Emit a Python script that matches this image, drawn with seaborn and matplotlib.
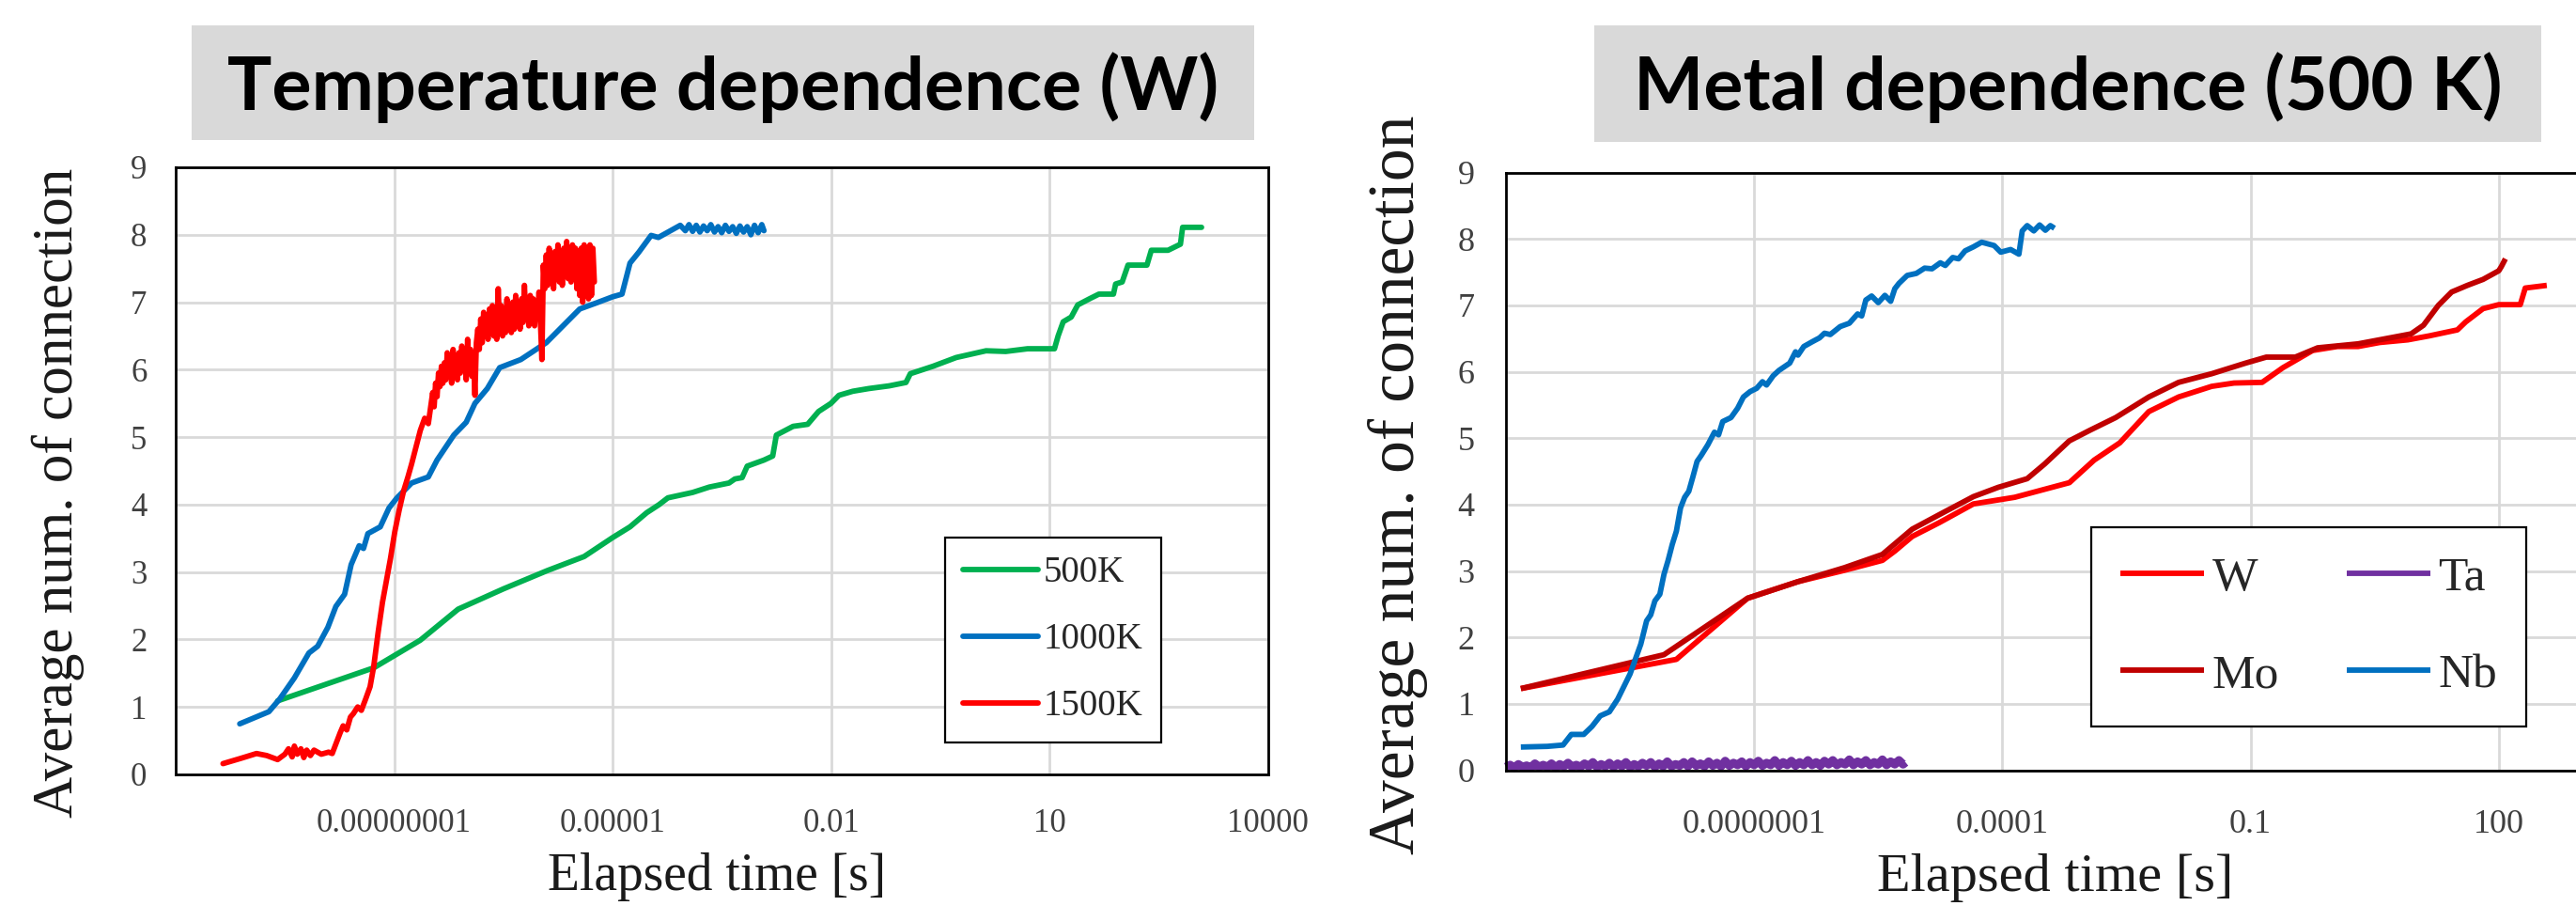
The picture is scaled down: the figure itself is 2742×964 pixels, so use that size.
import numpy as np
import pandas as pd
import matplotlib
matplotlib.use("Agg")
import matplotlib.pyplot as plt
from matplotlib.patches import Rectangle
from matplotlib.ticker import FixedLocator, FixedFormatter, NullLocator
import seaborn as sns

# ---------------- DATA (log10 of elapsed time [s], average num. of connection) ----------------
# Left chart: temperature dependence (W)
left_series = ["500K", "1000K", "1500K"]
left_colors = ["#00B050", "#0070C0", "#FF0000"]

logt_500K = [-9.60, -8.28, -7.64, -7.12, -6.50, -5.90, -5.39, -5.00, -4.76, -4.53, -4.36, -4.24,
             -3.90, -3.67, -3.40, -3.32, -3.22, -3.15, -2.92, -2.80, -2.75, -2.52, -2.32, -2.17,
             -2.00, -1.89, -1.70, -1.48, -1.20, -0.97, -0.91, -0.60, -0.28, 0.13, 0.40, 0.70,
             1.07, 1.12, 1.19, 1.30, 1.39, 1.55, 1.68, 1.88, 1.91, 2.00, 2.08, 2.34, 2.40, 2.63,
             2.80, 2.83, 3.09]
val_500K = [1.09, 1.58, 1.99, 2.45, 2.75, 3.02, 3.23, 3.51, 3.67, 3.88, 4.00, 4.10,
            4.18, 4.26, 4.32, 4.38, 4.40, 4.57, 4.66, 4.72, 5.03, 5.16, 5.19, 5.38,
            5.50, 5.62, 5.68, 5.72, 5.76, 5.81, 5.94, 6.05, 6.18, 6.28, 6.27, 6.31,
            6.31, 6.50, 6.71, 6.78, 6.96, 7.05, 7.12, 7.12, 7.27, 7.30, 7.55, 7.55, 7.77, 7.77,
            7.86, 8.11, 8.11]

logt_1000K = [-10.12, -9.72, -9.57, -9.37, -9.17, -9.05, -8.91, -8.80, -8.68, -8.59, -8.48, -8.42,
              -8.36, -8.19, -8.07, -7.96, -7.76, -7.53, -7.41, -7.18, -7.01, -6.89, -6.72, -6.55,
              -6.26, -5.91, -5.68, -5.45, -5.22, -5.00, -4.87, -4.76, -4.64, -4.47, -4.37, -4.07,
              -4.00, -3.95, -3.90, -3.85, -3.80, -3.75, -3.70, -3.65, -3.60, -3.55, -3.50, -3.45,
              -3.40, -3.35, -3.30, -3.25, -3.20, -3.15, -3.10, -3.05, -3.00, -2.95, -2.92]
val_1000K = [0.75, 0.93, 1.12, 1.43, 1.80, 1.90, 2.18, 2.49, 2.67, 3.11, 3.39, 3.35,
             3.57, 3.67, 3.95, 4.10, 4.32, 4.41, 4.66, 5.03, 5.22, 5.50, 5.72, 6.03,
             6.15, 6.40, 6.65, 6.90, 6.99, 7.08, 7.12, 7.58, 7.74, 7.99, 7.96, 8.14,
             8.06, 8.15, 8.05, 8.14, 8.04, 8.13, 8.06, 8.15, 8.04, 8.12, 8.03, 8.14,
             8.05, 8.12, 8.02, 8.13, 8.04, 8.12, 8.00, 8.14, 8.03, 8.15, 8.06]

logt_1500K = [-10.35, -10.10, -9.89, -9.75, -9.60, -9.50, -9.45, -9.40, -9.37, -9.33, -9.28, -9.24,
              -9.20, -9.15, -9.10, -9.00, -8.90, -8.85, -8.80, -8.74, -8.70, -8.65, -8.60, -8.56,
              -8.50, -8.45, -8.39, -8.33, -8.28, -8.22, -8.16, -8.10, -8.05, -7.99, -7.93, -7.87,
              -7.81, -7.76, -7.70, -7.64, -7.58, -7.53,
              -7.47, -7.45, -7.43, -7.41, -7.39, -7.37, -7.35, -7.33, -7.31, -7.29, -7.27, -7.25,
              -7.23, -7.21, -7.19, -7.17, -7.15, -7.13, -7.11, -7.09, -7.07, -7.05, -7.03, -7.01,
              -6.99, -6.97, -6.95, -6.93, -6.91, -6.89, -6.87, -6.85, -6.83, -6.81, -6.79, -6.77,
              -6.75, -6.73, -6.71, -6.69, -6.67, -6.65, -6.63, -6.61, -6.59, -6.57, -6.55, -6.53,
              -6.51, -6.49, -6.47, -6.45, -6.43, -6.41, -6.39, -6.37, -6.35, -6.33, -6.31, -6.29,
              -6.27, -6.25, -6.23, -6.21, -6.19, -6.17, -6.15, -6.13, -6.11, -6.09, -6.07, -6.05,
              -6.03, -6.01, -5.99, -5.97, -5.95, -5.93, -5.91, -5.89, -5.87, -5.85, -5.83, -5.81,
              -5.79, -5.77, -5.75, -5.73, -5.71, -5.69, -5.67, -5.65, -5.63, -5.61, -5.59, -5.57,
              -5.55, -5.53, -5.51, -5.49, -5.47, -5.45, -5.43, -5.41, -5.39, -5.37, -5.35, -5.33,
              -5.31, -5.29, -5.27, -5.25]
val_1500K = [0.16, 0.24, 0.31, 0.28, 0.22, 0.30, 0.38, 0.26, 0.42, 0.30, 0.38, 0.25,
             0.36, 0.28, 0.36, 0.30, 0.33, 0.31, 0.45, 0.62, 0.72, 0.66, 0.85, 0.90,
             1.00, 0.95, 1.12, 1.30, 1.60, 2.10, 2.55, 2.90, 3.20, 3.60, 3.92, 4.20,
             4.41, 4.60, 4.85, 5.10, 5.28, 5.20,
             5.66, 5.45, 5.80, 5.60, 5.95, 5.75, 6.05, 5.80, 6.10, 5.85, 6.25, 5.90,
             6.20, 5.80, 6.30, 5.90, 6.15, 5.85, 6.25, 5.95, 6.35, 6.00, 6.30, 5.85,
             6.45, 6.00, 6.30, 5.90, 6.20, 5.62, 6.40, 6.60, 6.30, 6.75, 6.40, 6.85,
             6.50, 6.80, 6.45, 6.90, 6.55, 6.95, 6.50, 6.85, 6.45, 7.20, 6.60, 6.95,
             6.50, 6.90, 6.55, 7.05, 6.60, 6.90, 6.55, 7.00, 6.60, 7.10, 6.65, 6.95,
             6.60, 7.05, 6.70, 7.25, 6.75, 7.00, 6.65, 7.10, 6.70, 7.05, 6.65, 7.00,
             6.80, 7.15, 6.70, 6.15, 7.55, 7.20, 7.70, 7.25, 7.80, 7.30, 7.65, 7.20,
             7.75, 7.35, 7.85, 7.30, 7.70, 7.25, 7.80, 7.40, 7.90, 7.35, 7.75, 7.30,
             7.85, 7.40, 7.80, 7.20, 7.70, 7.10, 7.80, 7.00, 7.85, 7.20, 7.80, 7.05,
             7.85, 7.10, 7.80, 7.30]

left_xticks = [1e-8, 1e-5, 1e-2, 1e1, 1e4]
left_xticklabels = ["0.00000001", "0.00001", "0.01", "10", "10000"]

# Right chart: metal dependence (500 K)
right_series = ["W", "Mo", "Ta", "Nb"]
right_colors = ["#FF0000", "#C00000", "#7030A0", "#0070C0"]

logt_W = [-9.82, -7.94, -7.08, -6.47, -5.91, -5.45, -5.30, -5.09, -4.76, -4.35, -3.85, -3.49,
          -3.19, -2.89, -2.58, -2.23, -1.87, -1.47, -1.20, -0.86, -0.61, -0.25, 0.05, 0.30,
          0.56, 0.90, 1.16, 1.50, 1.60, 1.81, 2.00, 2.26, 2.32, 2.58]
val_W = [1.23, 1.67, 2.59, 2.84, 3.01, 3.16, 3.30, 3.52, 3.73, 4.01, 4.11, 4.23,
         4.33, 4.67, 4.93, 5.40, 5.62, 5.78, 5.83, 5.84, 6.06, 6.32, 6.38, 6.38,
         6.44, 6.48, 6.54, 6.63, 6.75, 6.95, 7.01, 7.01, 7.26, 7.30]

logt_Mo = [-9.82, -8.09, -7.08, -6.47, -5.91, -5.45, -5.09, -4.76, -4.35, -4.05, -3.70, -3.49,
           -3.19, -2.94, -2.63, -2.23, -1.87, -1.47, -1.06, -0.81, -0.46, -0.19, 0.30, 0.94,
           1.09, 1.27, 1.43, 1.62, 1.81, 2.00, 2.03, 2.08]
val_Mo = [1.23, 1.74, 2.59, 2.84, 3.05, 3.25, 3.63, 3.85, 4.12, 4.26, 4.39, 4.61,
          4.96, 5.12, 5.31, 5.62, 5.84, 5.97, 6.13, 6.22, 6.22, 6.36, 6.42, 6.57,
          6.70, 7.00, 7.20, 7.30, 7.39, 7.52, 7.58, 7.70]

logt_Ta = [-10.00, -9.95, -9.90, -9.85, -9.80, -9.75, -9.70, -9.65, -9.60, -9.55, -9.50, -9.45,
           -9.40, -9.35, -9.30, -9.25, -9.20, -9.15, -9.10, -9.05, -9.00, -8.95, -8.90, -8.85,
           -8.80, -8.75, -8.70, -8.65, -8.60, -8.55, -8.50, -8.45, -8.40, -8.35, -8.30, -8.25,
           -8.20, -8.15, -8.10, -8.05, -8.00, -7.95, -7.90, -7.85, -7.80, -7.75, -7.70, -7.65,
           -7.60, -7.55, -7.50, -7.45, -7.40, -7.35, -7.30, -7.25, -7.20, -7.15, -7.10, -7.05,
           -7.00, -6.95, -6.90, -6.85, -6.80, -6.75, -6.70, -6.65, -6.60, -6.55, -6.50, -6.45,
           -6.40, -6.35, -6.30, -6.25, -6.20, -6.15, -6.10, -6.05, -6.00, -5.95, -5.90, -5.85,
           -5.80, -5.75, -5.70, -5.65, -5.60, -5.55, -5.50, -5.45, -5.40, -5.35, -5.30, -5.25,
           -5.20, -5.17]
val_Ta = [0.05, 0.08, 0.04, 0.09, 0.05, 0.07, 0.04, 0.10, 0.05, 0.08, 0.05, 0.10,
          0.04, 0.09, 0.06, 0.11, 0.05, 0.08, 0.05, 0.10, 0.06, 0.12, 0.05, 0.09,
          0.06, 0.11, 0.05, 0.10, 0.06, 0.12, 0.05, 0.09, 0.06, 0.11, 0.07, 0.12,
          0.05, 0.10, 0.06, 0.13, 0.06, 0.09, 0.07, 0.12, 0.06, 0.13, 0.07, 0.10,
          0.06, 0.13, 0.07, 0.11, 0.06, 0.14, 0.07, 0.11, 0.08, 0.13, 0.06, 0.12,
          0.08, 0.14, 0.07, 0.11, 0.08, 0.15, 0.07, 0.12, 0.08, 0.14, 0.07, 0.12,
          0.08, 0.15, 0.08, 0.12, 0.07, 0.14, 0.09, 0.15, 0.08, 0.12, 0.09, 0.16,
          0.08, 0.13, 0.09, 0.15, 0.08, 0.12, 0.09, 0.16, 0.08, 0.13, 0.09, 0.15,
          0.09, 0.12]

logt_Nb = [-9.82, -9.50, -9.31, -9.21, -9.06, -8.96, -8.86, -8.75, -8.65, -8.50, -8.37, -8.30,
           -8.25, -8.20, -8.14, -8.09, -8.04, -7.99, -7.94, -7.89, -7.84, -7.79, -7.74, -7.69,
           -7.64, -7.56, -7.48, -7.43, -7.38, -7.28, -7.20, -7.13, -7.05, -6.97, -6.90, -6.85,
           -6.77, -6.70, -6.57, -6.50, -6.47, -6.40, -6.30, -6.21, -6.15, -6.08, -5.96, -5.85,
           -5.75, -5.70, -5.65, -5.58, -5.50, -5.42, -5.35, -5.30, -5.25, -5.15, -5.04, -4.94,
           -4.85, -4.75, -4.69, -4.60, -4.53, -4.45, -4.35, -4.25, -4.10, -4.02, -3.90, -3.80,
           -3.76, -3.70, -3.62, -3.55, -3.48, -3.42, -3.37]
val_Nb = [0.35, 0.36, 0.38, 0.54, 0.54, 0.66, 0.82, 0.88, 1.07, 1.45, 1.90, 2.25,
          2.34, 2.55, 2.65, 2.95, 3.16, 3.40, 3.60, 3.95, 4.11, 4.20, 4.42, 4.65,
          4.74, 4.90, 5.09, 5.05, 5.25, 5.31, 5.45, 5.62, 5.70, 5.75, 5.85, 5.80,
          5.94, 6.02, 6.13, 6.30, 6.25, 6.38, 6.45, 6.51, 6.58, 6.56, 6.68, 6.73,
          6.87, 6.84, 7.08, 7.14, 7.04, 7.15, 7.06, 7.25, 7.33, 7.45, 7.48, 7.56,
          7.55, 7.64, 7.60, 7.72, 7.70, 7.82, 7.88, 7.95, 7.90, 7.80, 7.84, 7.77,
          8.12, 8.20, 8.12, 8.21, 8.13, 8.20, 8.16]

right_xticks = [1e-7, 1e-4, 1e-1, 1e2]
right_xticklabels = ["0.0000001", "0.0001", "0.1", "100"]

yticks = [0, 1, 2, 3, 4, 5, 6, 7, 8, 9]
title_left = "Temperature dependence (W)"
title_right = "Metal dependence (500 K)"
xlabel = "Elapsed time [s]"
ylabel = "Average num. of connection"

# ---------------- FIGURE ----------------
sns.set_theme(style="white")
plt.rcParams["font.family"] = ["Liberation Serif", "DejaVu Serif"]

W, H = 2742, 964
fig = plt.figure(figsize=(W / 100, H / 100), dpi=100)
fig.patch.set_facecolor("white")


def px_rect(x0, y0, x1, y1):
    return [x0 / W, 1 - y1 / H, (x1 - x0) / W, (y1 - y0) / H]


axL = fig.add_axes(px_rect(187, 178, 1349.5, 824))
axR = fig.add_axes(px_rect(1603, 183.5, 2924, 819.6))

LW = 4.2


def make_df(logt, vals, name):
    return pd.DataFrame({"t": np.power(10.0, np.asarray(logt)), "v": vals, "s": name})


left_data = [make_df(logt_500K, val_500K, "500K"),
             make_df(logt_1000K, val_1000K, "1000K"),
             make_df(logt_1500K, val_1500K, "1500K")]
for df, c in zip(left_data, left_colors):
    sns.lineplot(data=df, x="t", y="v", ax=axL, color=c, linewidth=LW, sort=False,
                 estimator=None, label=df["s"].iloc[0], solid_joinstyle="round",
                 solid_capstyle="round")

right_data = [make_df(logt_W, val_W, "W"),
              make_df(logt_Mo, val_Mo, "Mo"),
              make_df(logt_Ta, val_Ta, "Ta"),
              make_df(logt_Nb, val_Nb, "Nb")]
for df, c in zip(right_data, right_colors):
    lw = 6.5 if df["s"].iloc[0] == "Ta" else LW
    sns.lineplot(data=df, x="t", y="v", ax=axR, color=c, linewidth=lw, sort=False,
                 estimator=None, label=df["s"].iloc[0], solid_joinstyle="round",
                 solid_capstyle="butt", clip_on=False)

for ax, xlim, xt, xtl, pady, padx, fs in [
        (axL, (1e-11, 1e4), left_xticks, left_xticklabels, 22, 26, 25),
        (axR, (1e-10, 1e5), right_xticks, right_xticklabels, 24, 30, 26)]:
    ax.set_xscale("log")
    ax.set_xlim(*xlim)
    ax.set_ylim(0, 9)
    ax.xaxis.set_major_locator(FixedLocator(xt))
    ax.xaxis.set_major_formatter(FixedFormatter(xtl))
    ax.xaxis.set_minor_locator(NullLocator())
    ax.set_yticks(yticks)
    ax.set_yticklabels([str(v) for v in yticks])
    ax.set_axisbelow(True)
    ax.grid(True, which="major", color="#D9D9D9", linewidth=2.0)
    for sp in ax.spines.values():
        sp.set_visible(True)
        sp.set_color("black")
        sp.set_linewidth(2.0)
    ax.tick_params(axis="both", which="major", direction="in", length=8, width=1.8,
                   color="black", labelsize=fs, labelcolor="#404040")
    ax.tick_params(axis="y", pad=pady)
    ax.tick_params(axis="x", pad=padx)
    ax.set_xlabel("")
    ax.set_ylabel("")
    ax.set_facecolor("white")

# legends
legL = axL.legend(loc="upper left", bbox_to_anchor=(1005.8 / W, 1 - 572 / H),
                  bbox_transform=fig.transFigure, borderaxespad=0, fontsize=28,
                  frameon=True, fancybox=False, framealpha=1, edgecolor="black",
                  handlelength=2.05, handletextpad=0.15, labelspacing=0.87, borderpad=0.5)
legL.get_frame().set_linewidth(1.6)
for line in legL.get_lines():
    line.set_linewidth(LW)

legR = axR.legend(loc="upper left", bbox_to_anchor=(2226 / W, 1 - 560.7 / H),
                  bbox_transform=fig.transFigure, borderaxespad=0, fontsize=37,
                  ncol=2, frameon=True, fancybox=False, framealpha=1, edgecolor="black",
                  handlelength=1.73, handletextpad=0.17, labelspacing=1.1, borderpad=0.6,
                  columnspacing=1.4)
legR.get_frame().set_linewidth(1.6)
for line in legR.get_lines():
    line.set_linewidth(LW)

# title boxes
fig.patches.append(Rectangle((204 / W, 1 - 149 / H), (1335 - 204) / W, (149 - 27) / H,
                             transform=fig.transFigure, facecolor="#D9D9D9", edgecolor="none",
                             zorder=0))
fig.patches.append(Rectangle((1697 / W, 1 - 151 / H), (2705 - 1697) / W, (151 - 27) / H,
                             transform=fig.transFigure, facecolor="#D9D9D9", edgecolor="none",
                             zorder=0))

tl = fig.text(770 / W, 1 - 117 / H, title_left, ha="center", va="baseline",
              family=["Lato", "DejaVu Sans"], fontweight="bold", fontsize=55, color="black")
tr = fig.text(2201 / W, 1 - 117 / H, title_right, ha="center", va="baseline",
              family=["Lato", "DejaVu Sans"], fontweight="bold", fontsize=55, color="black")
renderer = fig.canvas.get_renderer()
for t, target in [(tl, 1054), (tr, 923)]:
    w = t.get_window_extent(renderer).width
    t.set_fontsize(t.get_fontsize() * target / w)

# axis labels
fig.text(763 / W, 1 - 947 / H, xlabel, ha="center", va="baseline", fontsize=40, color="#1a1a1a")
fig.text(2188 / W, 1 - 948 / H, xlabel, ha="center", va="baseline", fontsize=42, color="#1a1a1a")
fig.text(62 / W, 1 - 524 / H, ylabel, ha="center", va="center", rotation=90, fontsize=44,
         color="#1a1a1a")
fig.text(1488 / W, 1 - 516 / H, ylabel, ha="center", va="center", rotation=90, fontsize=50,
         color="#1a1a1a")

fig.savefig("out.png", dpi=100, facecolor="white")
